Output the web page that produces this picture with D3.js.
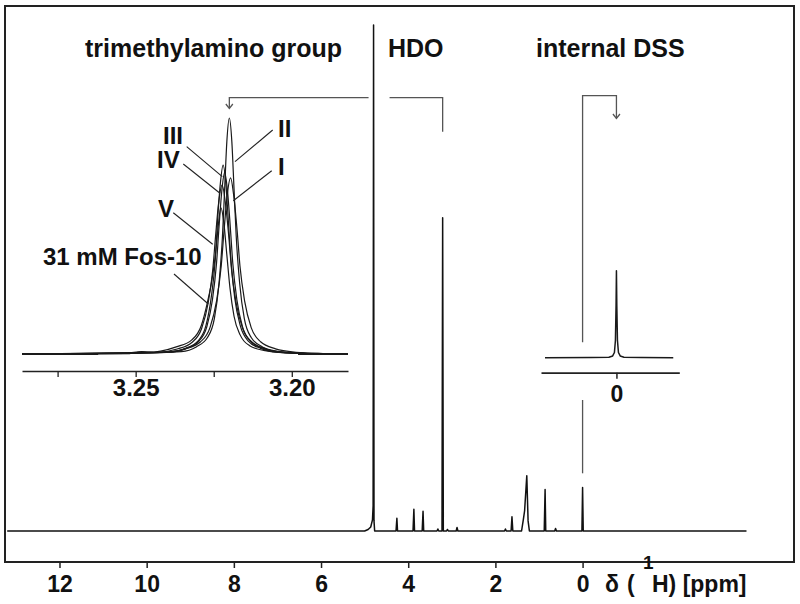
<!DOCTYPE html>
<html><head><meta charset="utf-8">
<script src="https://cdn.jsdelivr.net/npm/d3@7/dist/d3.min.js"></script>
<style>
body{margin:0;background:#fff;}
svg text{font-family:"Liberation Sans",Arial,Helvetica,sans-serif;font-weight:bold;fill:#111;}
</style></head>
<body>
<svg id="c" width="800" height="604"></svg>
<script>
// ---------- data ----------
const mainTicks = [12, 10, 8, 6, 4, 2, 0];
// main 1H spectrum: [ppm, intensity] (HDO = 100)
const mainSpectrum = [
  [13.2,0],[5.0,0],[4.92,0.3],[4.86,0.8],[4.82,2.2],[4.805,5],[4.795,100],[4.785,2],[4.77,0],
  [4.28,0],[4.26,2.5],[4.245,0],
  [3.89,0],[3.87,4.3],[3.855,0],
  [3.68,0],[3.66,3.9],[3.645,0],
  [3.34,0],[3.32,0.4],[3.30,0],
  [3.225,0],[3.21,61.9],[3.195,0],
  [3.12,0],[3.10,0.3],[3.08,0],
  [2.90,0],[2.88,0.7],[2.86,0],
  [1.79,0],[1.77,0.4],[1.75,0],
  [1.64,0],[1.62,2.8],[1.60,0],
  [1.40,0],[1.36,2.2],[1.33,4],[1.28,10.9],[1.25,2],[1.22,0],
  [0.88,0],[0.86,8.2],[0.845,0],
  [0.64,0],[0.62,0.5],[0.60,0],
  [0.015,0],[0,8.6],[-0.015,0],
  [-3.76,0]
];
// trimethylamino inset: six traces [ppm, intensity] (II = 100)
const insetTicks = [3.275, 3.25, 3.225, 3.20];
const insetTickLabels = [3.25, 3.20];
const traceII = [[3.286,0],[3.25,0.3],[3.2354,1],[3.2306,3],[3.227,7],[3.2248,15],[3.2233,30],[3.2222,50],[3.2215,70],[3.2208,90],[3.22,100],[3.2192,90],[3.2185,70],[3.2178,50],[3.2167,30],[3.2152,15],[3.213,7],[3.2094,3],[3.2046,1],[3.195,0.2],[3.182,0]];
const traceIII = [[3.286,0],[3.25,0.5],[3.2395,0.8],[3.234,2.4],[3.23,5.6],[3.2275,12],[3.2258,24],[3.2245,40],[3.2238,56],[3.2229,72],[3.222,80],[3.2211,72],[3.2203,56],[3.2195,40],[3.2183,24],[3.2165,12],[3.214,5.6],[3.21,2.4],[3.2045,0.8],[3.195,0.2],[3.182,0]];
const traceIV = [[3.286,0],[3.25,0.6],[3.2395,0.8],[3.234,2.3],[3.2298,5.4],[3.2272,11.6],[3.2254,23.1],[3.2241,38.5],[3.2233,53.9],[3.2224,69.3],[3.2215,77],[3.2206,69.3],[3.2197,53.9],[3.2189,38.5],[3.2176,23.1],[3.2158,11.6],[3.2132,5.4],[3.209,2.3],[3.2035,0.8],[3.195,0.2],[3.182,0]];
const traceI = [[3.286,0],[3.25,0.4],[3.2406,0.75],[3.234,2.2],[3.2292,5.2],[3.2262,11.2],[3.2241,22.4],[3.2226,37.3],[3.2217,52.2],[3.2207,67.1],[3.2196,74.6],[3.2186,67.1],[3.2175,52.2],[3.2166,37.3],[3.2151,22.4],[3.213,11.2],[3.21,5.2],[3.2052,2.2],[3.1986,0.75],[3.19,0.2],[3.182,0]];
const traceV = [[3.286,0],[3.252,0.2],[3.2475,0.9],[3.2433,0.7],[3.2367,2.1],[3.2319,5],[3.2289,10.7],[3.2268,21.5],[3.2253,35.8],[3.2244,50.1],[3.2234,64.4],[3.2223,71.6],[3.2213,64.4],[3.2202,50.1],[3.2193,35.8],[3.2178,21.5],[3.2157,10.7],[3.2127,5],[3.2079,2.1],[3.2013,0.7],[3.19,0.2],[3.182,0]];
const traceFos10 = [[3.286,0],[3.253,0.3],[3.248,1.0],[3.246,0.7],[3.242,1.2],[3.237,3],[3.232,6],[3.229,12],[3.227,22],[3.2255,32],[3.2243,44],[3.2235,55],[3.2227,62],[3.2218,56],[3.2208,42],[3.2198,28],[3.2185,16],[3.2165,8],[3.2135,3.5],[3.209,1.5],[3.202,0.5],[3.19,0.1],[3.182,0]];
const insetTraces = [traceII, traceIII, traceIV, traceI, traceV, traceFos10];
const traceLabels = ["II", "III", "IV", "I", "V", "31 mM Fos-10"];
// internal DSS inset
const dssTicks = [0];
const dssSpectrum = [[0.0568,0],[0.02,0.2],[0.006,0.6],[0.003,2],[0.0016,6],[0.0008,20],[0.0003,60],[0,100],[-0.0003,60],[-0.0008,20],[-0.0016,6],[-0.003,2],[-0.006,0.6],[-0.02,0.2],[-0.0452,0]];
const titles = ["trimethylamino group", "HDO", "internal DSS"];

// ---------- drawing ----------
const svg = d3.select("#c");
const ink = "#111";
const ff = '"Liberation Sans",Arial,sans-serif';

const x = d3.scaleLinear().domain([13.25, -4.85]).range([5, 794]);
const y = d3.scaleLinear().domain([0, 100]).range([531, 25]);
const xi = d3.scaleLinear().domain([3.2864, 3.182]).range([22, 348]);
const yi = d3.scaleLinear().domain([0, 100]).range([354, 118]);
const xd = d3.scaleLinear().domain([0.06, -0.05]).range([541, 679.3]);
const yd = d3.scaleLinear().domain([0, 100]).range([357.7, 270.7]);

// frame
svg.append("rect").attr("x", 5).attr("y", 6).attr("width", 789).attr("height", 556)
  .attr("fill", "none").attr("stroke", "#222").attr("stroke-width", 2);

// main axis
const ax = svg.append("g").attr("transform", "translate(0,562)")
  .call(d3.axisBottom(x).tickValues(mainTicks).tickSize(6).tickSizeOuter(0).tickFormat(d3.format("d")));
ax.select(".domain").remove();
ax.selectAll("line").attr("stroke", "#222").attr("stroke-width", 1.5);
ax.selectAll("text").attr("font-size", 23).attr("dy", null).attr("y", 30)
  .style("font-family", ff).style("font-weight", "bold").attr("fill", ink);

// axis label
const lab = svg.append("text").attr("y", 592).attr("font-size", 23);
lab.append("tspan").attr("x", 605).text("δ");
lab.append("tspan").attr("x", 627).text("(");
lab.append("tspan").attr("x", 643).attr("font-size", 19).attr("y", 569).text("1");
lab.append("tspan").attr("x", 652).attr("y", 592).text("H) [ppm]");

// main spectrum
const line = d3.line().x(d => x(d[0])).y(d => y(d[1]));
svg.append("path").datum(mainSpectrum).attr("d", line)
  .attr("fill", "none").attr("stroke", ink).attr("stroke-width", 1.5).attr("stroke-linejoin", "round");

// titles
svg.append("text").attr("x", 85).attr("y", 57).attr("font-size", 25).text(titles[0]);
svg.append("text").attr("x", 388).attr("y", 57).attr("font-size", 25).text(titles[1]);
svg.append("text").attr("x", 536).attr("y", 57).attr("font-size", 25).text(titles[2]);

// ---- trimethylamino inset ----
const iax = svg.append("g").attr("transform", "translate(0,371)")
  .call(d3.axisBottom(xi).tickValues(insetTicks).tickSize(6).tickSizeOuter(0)
    .tickFormat(d => insetTickLabels.some(v => Math.abs(v - d) < 1e-9) ? d3.format(".2f")(d) : ""));
iax.select(".domain").attr("stroke", "#222").attr("stroke-width", 1.6);
iax.selectAll("line").attr("stroke", "#222").attr("stroke-width", 1.3);
iax.selectAll("text").attr("font-size", 24).attr("dy", null).attr("y", 25)
  .style("font-family", ff).style("font-weight", "bold").attr("fill", ink);

const iline = d3.line().curve(d3.curveMonotoneX).x(d => xi(d[0])).y(d => yi(d[1]));
svg.append("g").selectAll("path").data(insetTraces.slice().reverse()).join("path")
  .attr("d", d => iline(d.slice().reverse()))
  .attr("fill", "none").attr("stroke", "#1a1a1a").attr("stroke-width", 1.2);
svg.append("path").datum([[3.2864,0],[3.262,0]]).attr("d", iline)
  .attr("fill", "none").attr("stroke", "#1a1a1a").attr("stroke-width", 1.9);
svg.append("path").datum([[3.198,0],[3.182,0]]).attr("d", iline)
  .attr("fill", "none").attr("stroke", "#1a1a1a").attr("stroke-width", 1.9);

// trace labels and leader lines
const labelPos = [
  {t: traceLabels[0], x: 278, y: 137, l: [[272.7,130],[235,161.7]]},
  {t: traceLabels[1], x: 163, y: 144, l: [[186.7,146.7],[222.3,176.7]]},
  {t: traceLabels[2], x: 157, y: 168, l: [[183.3,164],[220,193.3]]},
  {t: traceLabels[3], x: 278, y: 175, l: [[271.7,170.7],[233.3,200.7]]},
  {t: traceLabels[4], x: 158, y: 217, l: [[173.3,212.7],[212.7,244.3]]},
  {t: traceLabels[5], x: 43, y: 265, l: [[174,274],[208.3,304]]}
];
labelPos.forEach(p => {
  svg.append("text").attr("x", p.x).attr("y", p.y).attr("font-size", 24).text(p.t);
  svg.append("line").attr("x1", p.l[0][0]).attr("y1", p.l[0][1]).attr("x2", p.l[1][0]).attr("y2", p.l[1][1])
    .attr("stroke", "#222").attr("stroke-width", 1.1);
});

// ---- DSS inset ----
const dax = svg.append("g").attr("transform", "translate(0,372.7)")
  .call(d3.axisBottom(xd).tickValues(dssTicks).tickSize(6).tickSizeOuter(0).tickFormat(d3.format("d")));
dax.select(".domain").attr("stroke", "#222").attr("stroke-width", 1.8);
dax.selectAll("line").attr("stroke", "#222").attr("stroke-width", 1.5);
dax.selectAll("text").attr("font-size", 23).attr("dy", null).attr("y", 29)
  .style("font-family", ff).style("font-weight", "bold").attr("fill", ink);
const dline = d3.line().x(d => xd(d[0])).y(d => yd(d[1]));
svg.append("path").datum(dssSpectrum).attr("d", dline)
  .attr("fill", "none").attr("stroke", "#1a1a1a").attr("stroke-width", 1.5).attr("stroke-linejoin", "round");

// ---- connectors ----
const gcol = "#555";
const conn = svg.append("g").attr("fill", "none").attr("stroke", gcol).attr("stroke-width", 1.3);
const yBar = 97.7;
const xTMA = x(3.21), xHDO = x(4.795);
conn.append("path").attr("d", `M${xTMA},131.7V${yBar}H${xHDO + 16}`);
conn.append("path").attr("d", `M${xHDO - 5},${yBar}H${xi(3.22)}V108`);
conn.append("path").attr("d", `M${xi(3.22) - 3.5},104L${xi(3.22)},108.5L${xi(3.22) + 3.5},104`);
const x0 = x(0), xD0 = xd(0), yBar2 = 95.7;
conn.append("path").attr("d", `M${x0},342.3V${yBar2}H${xD0}V118.3`);
conn.append("path").attr("d", `M${xD0 - 3.5},114L${xD0},118.5L${xD0 + 3.5},114`);
conn.append("path").attr("d", `M${x0},400V473.3`);
</script>
</body></html>
